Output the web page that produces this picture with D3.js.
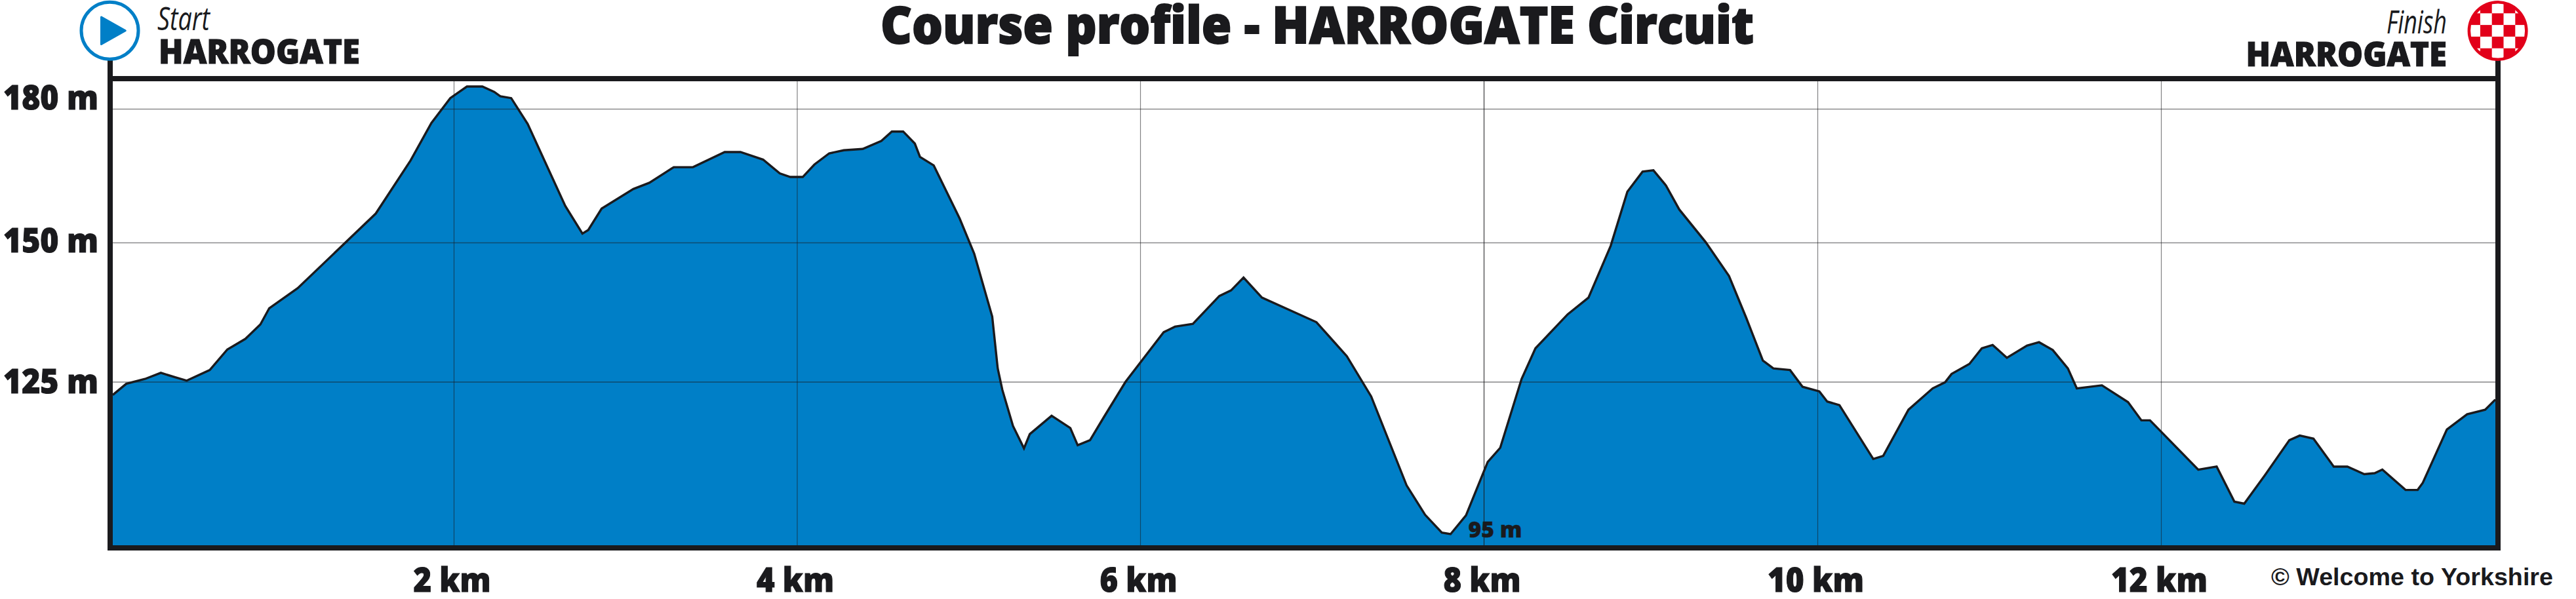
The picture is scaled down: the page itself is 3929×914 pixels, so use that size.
<!DOCTYPE html>
<html>
<head>
<meta charset="utf-8">
<script src="https://cdn.jsdelivr.net/npm/d3@7"></script>
<style>
  html, body { margin: 0; padding: 0; background: #fff; }
  svg { display: block; }
  text { fill: #1a1a1d; stroke: #1a1a1d; stroke-width: 1.1px; font-family: "Open Sans", sans-serif; font-weight: 800; }
</style>
</head>
<body>
<svg id="canvas" width="3929" height="914"></svg>
<script>
// profile
var distance_km = [0,.079,.189,.282,.366,.434,.569,.672,.778,.866,.918,1.085,1.543,1.747,1.869,1.98,2.077,2.167,2.236,2.272,
  2.335,2.431,2.65,2.75,2.784,2.862,3.047,3.14,3.282,3.394,3.579,3.671,3.803,3.9,3.961,4.034,4.102,4.188,4.273,4.383,
  4.492,4.553,4.619,4.687,4.717,4.797,4.948,5.033,5.138,5.17,5.197,5.259,5.323,5.357,5.484,5.593,5.636,5.708,5.788,5.915,
  6.137,6.203,6.307,6.461,6.529,6.602,6.709,7.026,7.203,7.345,7.551,7.659,7.756,7.807,7.897,8.024,8.099,8.227,8.31,8.503,
  8.628,8.761,8.861,8.952,9.017,9.092,9.172,9.33,9.47,9.573,9.673,9.736,9.836,9.911,10.011,10.057,10.128,10.325,10.383,10.53,
  10.671,10.743,10.781,10.885,10.957,11.02,11.103,11.22,11.29,11.37,11.458,11.51,11.656,11.808,11.886,11.936,12.223,12.333,12.439,12.498,
  12.622,12.768,12.83,12.912,13.033,13.115,13.216,13.278,13.324,13.463,13.535,13.566,13.71,13.831,13.939,14];
var elevation_m = [122.4,124.6,125.5,126.6,125.8,125.2,127.1,130.8,132.7,135.3,138.2,141.8,156.5,168.4,176.8,182.4,185,185,183.8,182.8,
  182.4,176.6,158.2,152,152.8,157.6,162,163.4,166.9,166.9,170.3,170.3,168.6,165.5,164.7,164.7,167.5,170,170.7,171,
  172.8,174.9,174.9,172.2,169.2,167.3,155.4,148,136.7,127.4,123.4,116.3,111.9,114.7,118.3,115.9,112.5,113.5,118,125,
  133.9,134.9,135.4,140.4,141.4,143.7,140.1,135.7,129.6,122.1,104.6,98.8,95.3,95,98.7,109.2,112,125.5,131,137.1,
  140.1,149.4,161.4,165.9,166.2,162.8,157.4,150.1,144,136.5,128.8,127.4,127.1,124,123.1,121.1,120.4,109.8,110.4,119.5,
  123.7,124.9,126.4,128.2,131,131.6,129.3,131.5,132.1,130.7,127.4,123.7,124.3,121,117.4,117.4,107.7,108.3,101.4,101,
  106.6,113.5,114.4,113.8,108.3,108.3,106.8,107,107.7,103.7,103.7,105.1,115.6,118.6,119.5,121.5];

var km_ticks = [2,4,6,8,10,12];
var m_ticks = [180,150,125];
var floor_m = 92.8;
var low_point = {km: 7.807, m: 95, label: '95 m'};

var title = 'Course profile - HARROGATE Circuit';
var start_place = ['Start','HARROGATE'];
var finish_place = ['Finish','HARROGATE'];
var credit = '\u00a9 Welcome to Yorkshire';

var ink = '#1a1a1d', blue = '#007fc7', red = '#e2001a';
var left = 168, right = 3810, top_y = 120, bottom_y = 836;

// the source graphic is not evenly spaced, so both scales are piecewise
var xScale = d3.scaleLinear()
  .domain([0,2,4,6,8,10,12,14])
  .range([172,692,1215.5,1739,2263,2772,3296,3806]);
var yScale = d3.scaleLinear()
  .domain([95,125,150,180])
  .range([815,582.5,370,166]);

var svg = d3.select('#canvas');
var points = distance_km.map((d,i) => { return {km: d, m: elevation_m[i]} });

// ************************************************************************************** //
// Profile

var areaGen = d3.area().x(d => xScale(d.km)).y0(yScale(floor_m)).y1(d => yScale(d.m));
var lineGen = d3.line().x(d => xScale(d.km)).y(d => yScale(d.m));

svg.append('path').attr('d', areaGen(points)).attr('fill', blue);

// ************************************************************************************** //
// Axes, tick lines double as the grid

var xAxis = svg.append('g').attr('transform', 'translate(0,' + bottom_y + ')')
  .call(d3.axisBottom(xScale).tickValues(km_ticks).tickFormat(d => d + ' km').tickSize(-(bottom_y - top_y)));
var yAxis = svg.append('g').attr('transform', 'translate(' + left + ',0)')
  .call(d3.axisLeft(yScale).tickValues(m_ticks).tickFormat(d => d + ' m').tickSize(-(right - left)));
xAxis.select('.domain').remove();
yAxis.select('.domain').remove();

xAxis.selectAll('.tick line').attr('stroke', ink)
  .attr('stroke-width', 1.2)
  .attr('stroke-opacity', d => d == 8 ? .85 : .55);
yAxis.selectAll('.tick line').attr('stroke', ink)
  .attr('stroke-width', d => d == 125 ? 1.2 : 1.6)
  .attr('stroke-opacity', d => d == 125 ? .8 : .5);

xAxis.selectAll('.tick text')
  .attr('y', 66.7).attr('dy', 0).attr('dx', -3)
  .attr('text-anchor', 'middle')
  .attr('font-size', 51).attr('font-family', '"Open Sans", sans-serif')
  .attr('textLength', d => d >= 10 ? 147 : 118).attr('lengthAdjust', 'spacingAndGlyphs');

var label_baseline = {180: 166.7, 150: 384, 125: 599.3};
yAxis.selectAll('.tick text')
  .attr('x', 150 - left).attr('y', 0).attr('dy', 0)
  .attr('transform', function(d) { return 'translate(0,' + (label_baseline[d] - yScale(d)) + ')' })
  .attr('text-anchor', 'end')
  .attr('font-size', 51).attr('font-family', '"Open Sans", sans-serif')
  .attr('textLength', 145).attr('lengthAdjust', 'spacingAndGlyphs');

svg.append('path').attr('d', lineGen(points))
  .attr('fill', 'none').attr('stroke', ink).attr('stroke-width', 3.4).attr('stroke-linejoin', 'miter');

// ************************************************************************************** //
// Frame and flag poles

svg.append('rect').attr('x', left).attr('y', top_y).attr('width', right - left).attr('height', bottom_y - top_y)
  .attr('fill', 'none').attr('stroke', ink).attr('stroke-width', 8);
svg.append('line').attr('x1', left).attr('x2', left).attr('y1', 90).attr('y2', top_y).attr('stroke', ink).attr('stroke-width', 8);
svg.append('line').attr('x1', right).attr('x2', right).attr('y1', 90).attr('y2', top_y).attr('stroke', ink).attr('stroke-width', 8);

// ************************************************************************************** //
// Texts

function label(txt, x, y, size, width, anchor) {
  return svg.append('text').text(txt)
    .attr('x', x).attr('y', y)
    .attr('font-size', size)
    .attr('text-anchor', anchor || 'start')
    .attr('textLength', width).attr('lengthAdjust', 'spacingAndGlyphs');
}

label(title, 1343, 65.7, 78, 1332).style('stroke-width', '2px');
label(start_place[0], 240, 46, 50, 80).style('font-weight', 400).style('font-style', 'italic').style('stroke-width', 0);
label(start_place[1], 242, 96.7, 51, 307);
label(finish_place[0], 3732, 51, 50, 92, 'end').style('font-weight', 400).style('font-style', 'italic').style('stroke-width', 0);
label(finish_place[1], 3732, 100.7, 51, 306.5, 'end');
label(low_point.label, xScale(low_point.km) + 27, yScale(low_point.m) + 5, 34, 82).style('stroke-width', '.5px');
label(credit, 3464, 892.7, 36, 430).style('font-family', '"Liberation Sans", sans-serif').style('font-weight', 700).style('stroke-width', 0);

// ************************************************************************************** //
// Start and finish badges

var startBadge = svg.append('g').attr('transform', 'translate(167.5,46.7)');
startBadge.append('circle').attr('r', 43.5).attr('fill', '#fff').attr('stroke', blue).attr('stroke-width', 5);
startBadge.append('path').attr('d', 'M-13,-20.7 L23.8,0 L-13,20.7 Z')
  .attr('fill', blue).attr('stroke', blue).attr('stroke-width', 3).attr('stroke-linejoin', 'round');

var finishBadge = svg.append('g').attr('transform', 'translate(3809.6,47)');
svg.append('clipPath').attr('id', 'finish_clip').append('circle').attr('r', 41.5);
finishBadge.append('circle').attr('r', 46).attr('fill', red);
var cell = 17.8;
var cells = d3.cross(d3.range(-2,3), d3.range(-2,3)).filter(d => (d[0] + d[1]) % 2 == 0);
finishBadge.append('g').attr('clip-path', 'url(#finish_clip)')
  .selectAll('rect').data(cells).join('rect')
  .attr('x', d => (d[0] - .5) * cell).attr('y', d => (d[1] - .5) * cell)
  .attr('width', cell).attr('height', cell).attr('fill', '#fff');
</script>
</body>
</html>
